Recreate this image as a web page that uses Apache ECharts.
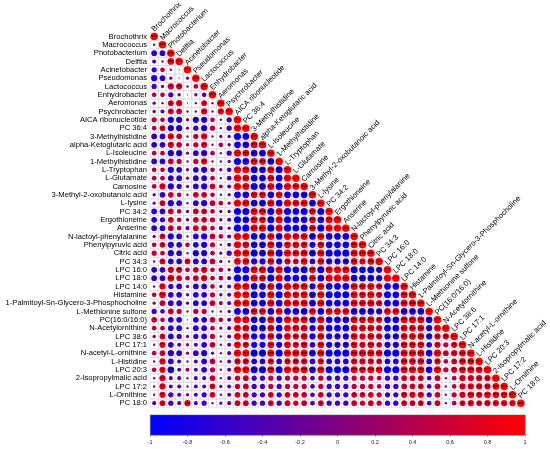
<!DOCTYPE html>
<html>
<head>
<meta charset="utf-8">
<title>Correlation plot</title>
<script src="https://cdn.jsdelivr.net/npm/echarts@6/dist/echarts.min.js"></script>
<style>
  html, body { margin: 0; padding: 0; background: #fff; }
  #main { width: 550px; height: 449px; }
</style>
</head>
<body>
<div id="main"></div>
<script>
const labels = [
  'Brochothrix', 'Macrococcus', 'Photobacterium', 'Delftia', 'Acinetobacter',
  'Pseudomonas', 'Lactococcus', 'Enhydrobacter', 'Aeromonas', 'Psychrobacter',
  'AICA ribonucleotide', 'PC 36:4', '3-Methylhistidine', 'alpha-Ketoglutaric acid',
  'L-Isoleucine', '1-Methylhistidine', 'L-Tryptophan', 'L-Glutamate', 'Carnosine',
  '3-Methyl-2-oxobutanoic acid', 'L-lysine', 'PC 34:2', 'Ergothioneine', 'Anserine',
  'N-lactoyl-phenylalanine', 'Phenylpyruvic acid', 'Citric acid', 'PC 34:3',
  'LPC 16:0', 'LPC 18:0', 'LPC 14:0', 'Histamine',
  '1-Palmitoyl-Sn-Glycero-3-Phosphocholine', 'L-Methionine sulfone',
  'PC(16:0/16:0)', 'N-Acetylornithine', 'LPC 38:6', 'LPC 17:1',
  'N-acetyl-L-ornithine', 'L-Histidine', 'LPC 20:3', '2-Isopropylmalic acid',
  'LPC 17:2', 'L-Ornithine', 'PC 18:0'
];

// lower triangle, one string per row; digits = +0.1..0.9 ('0' ~ 0),
// letters a..i = -0.1..-0.9, X = 1 (diagonal)
const corrRows = [
  'X',
  '1X',
  'ffX',
  'ca8X',
  'e4a0X',
  'gfb0bX',
  'eb77a4X',
  '44eb0bdX',
  'ba67016aX',
  'bc66a17a7X',
  '54gg2gg4ae' + 'X',
  '46gg2eg5ae' + '9X',
  'ff76a57abb' + 'ihX',
  'ff76257a4b' + 'hh9X',
  '44gg2fg4ae' + '98hhX',
  'ff65a57aab' + 'ih98hX',
  '44gf2fg4bd' + '99ih9iX',
  '44ff2ff4ad' + '98hh8h9X',
  '47ge2fg63c' + '99ih9i98X',
  'bf64a664ab' + 'hh88h8hhhX',
  '26gf1fg642' + '99hh9h989hX',
  'ff64b664bb' + 'ii99i9ihi8iX',
  'fe64b665bc' + 'ih98i9ihh8h9X',
  'ff64c664cb' + 'ii99i9ihi8i99X',
  '26gf1fg64c' + '99hh9h989h9hhhX',
  '46gf4fg5ac' + '98hh9h888g8hhh9X',
  '54gf1gg4be' + '99ih9i989h9iii99X',
  '16ff6ff6b1' + '88gg8g768f8ggg878X',
  'ff7746744b' + 'ii99i9ihi8i999ihigX',
  'ff8646744c' + 'ih98i9hhh8h999hhhg9X',
  '17efbff4bc' + '99hh9h989g9hhh9897hhX',
  '48ffbff5bc' + '99ih9i989h9iii9897ih9X',
  '26ffbff63c' + '99hh9h989h9hhh9897hh99X',
  'ed65a55a1b' + 'hh88h8hhh8h888hhhg88hhhX',
  '64ff0ff64c' + '99hh9h989h9hhh9897hh999hX',
  '44ff1ff42c' + '88hh8h888g8hhh8887hh888g8X',
  '26fe2ef51c' + '88gg8g878g8ggg8787gg888g77X',
  '17fc2cf6ac' + '87gg8g878f8ggg8786gg888f757X',
  '46gf2fgbac' + '99ii9i999h9iii9998ii999h9678X',
  '17fc1cf6ac' + '77ff7f777f7fff7776ff888f74688X',
  '47hc3cf5ac' + '99ii9i999h9iii9898ii999h957898X',
  '17cc1cc6ac' + '56ee5e555d5eee5554ee666d6147777X',
  '17cc1cc6bc' + '56ee5e555d5eee5554ee666d61477778X',
  '17ec2ce6ac' + '66ee6e666d6eee6665ee777e615787888X',
  'c6ec7ce1bc' + '66ee6e656d6eee6565ee666d6146767777X'
];

const barMin = -1, barMax = 1, barStep = 0.2;

function decode(ch) {
  if (ch === 'X') return 1;
  if (ch >= '0' && ch <= '9') return ch === '0' ? 0.03 : +ch / 10;
  return -('abcdefghij'.indexOf(ch) + 1) / 10;
}

function corrColor(r) {
  const t = (r + 1) / 2;
  return 'rgb(' + Math.round(255 * t) + ',0,' + Math.round(255 * (1 - t)) + ')';
}

function stars(r) {
  const a = Math.abs(r);
  if (a >= 0.8) return '***';
  if (a >= 0.7) return '**';
  if (a >= 0.6) return '*';
  return '';
}

const cells = [];
const diag = [];
corrRows.forEach(function (row, i) {
  for (let j = 0; j < row.length; j++) {
    cells.push([j, i, decode(row[j])]);
  }
  diag.push([i, i]);
});

const FONT = '"Liberation Sans", Arial, sans-serif';
const chart = echarts.init(document.getElementById('main'));

chart.setOption({
  backgroundColor: '#fff',
  animation: false,
  grid: [
    { left: 150, top: 32.3, width: 375, height: 375 },
    { left: 150, top: 414.7, width: 375, height: 20.3 }
  ],
  xAxis: [
    {
      type: 'category', gridIndex: 0, data: labels, show: false
    },
    {
      type: 'value', gridIndex: 1, min: barMin, max: barMax, interval: barStep,
      position: 'bottom',
      axisLine: { show: false },
      splitLine: { show: false },
      axisTick: { show: true, length: 2, lineStyle: { color: '#444', width: 0.5 } },
      axisLabel: {
        fontSize: 5.5, color: '#222', margin: 4, fontFamily: FONT,
        formatter: function (v) { return String(Math.round(v * 10) / 10); }
      }
    }
  ],
  yAxis: [
    {
      type: 'category', gridIndex: 0, data: labels, inverse: true,
      axisLine: { show: false }, axisTick: { show: false }, splitLine: { show: false },
      axisLabel: { fontSize: 7.6, color: '#000', margin: 3, fontFamily: FONT, interval: 0 }
    },
    { type: 'value', gridIndex: 1, show: false, min: 0, max: 1 }
  ],
  graphic: [
    {
      type: 'rect', left: 150, top: 414.7, z: 10,
      shape: { width: 375, height: 20.3 },
      style: {
        fill: new echarts.graphic.LinearGradient(0, 0, 1, 0, [
          { offset: 0, color: '#0000FF' },
          { offset: 1, color: '#FF0000' }
        ]),
        stroke: '#666', lineWidth: 0.5
      }
    }
  ],
  series: [
    {
      type: 'custom',
      xAxisIndex: 0, yAxisIndex: 0,
      data: cells,
      encode: { x: 0, y: 1 },
      renderItem: function (params, api) {
        const j = api.value(0), i = api.value(1), r = api.value(2);
        const c = api.coord([j, i]);
        const s = api.size([1, 1]);
        const w = s[0], h = s[1];
        const rad = 0.9 * Math.sqrt(Math.abs(r)) * Math.min(w, h) / 2;
        const children = [
          {
            type: 'rect',
            shape: { x: c[0] - w / 2, y: c[1] - h / 2, width: w, height: h },
            style: { fill: 'none', stroke: '#d6d6d6', lineWidth: 0.6 }
          },
          {
            type: 'circle',
            shape: { cx: c[0], cy: c[1], r: rad },
            style: { fill: corrColor(r) }
          }
        ];
        const st = stars(r);
        if (st) {
          children.push({
            type: 'text', x: c[0], y: c[1] + 1.2,
            style: {
              text: st, fill: '#000', font: '5px ' + FONT,
              align: 'center', verticalAlign: 'middle'
            }
          });
        }
        return { type: 'group', children: children };
      }
    },
    {
      type: 'custom',
      xAxisIndex: 0, yAxisIndex: 0,
      data: diag,
      encode: { x: 0, y: 1 },
      renderItem: function (params, api) {
        const i = api.value(1);
        const c = api.coord([api.value(0), i]);
        return {
          type: 'text', x: c[0] + 1.5, y: c[1] - 3, rotation: Math.PI / 4,
          style: {
            text: labels[i], fill: '#000', font: '7.6px ' + FONT,
            align: 'left', verticalAlign: 'bottom'
          }
        };
      }
    },
    {
      type: 'line', xAxisIndex: 1, yAxisIndex: 1, data: [], silent: true
    }
  ]
});
</script>
</body>
</html>
